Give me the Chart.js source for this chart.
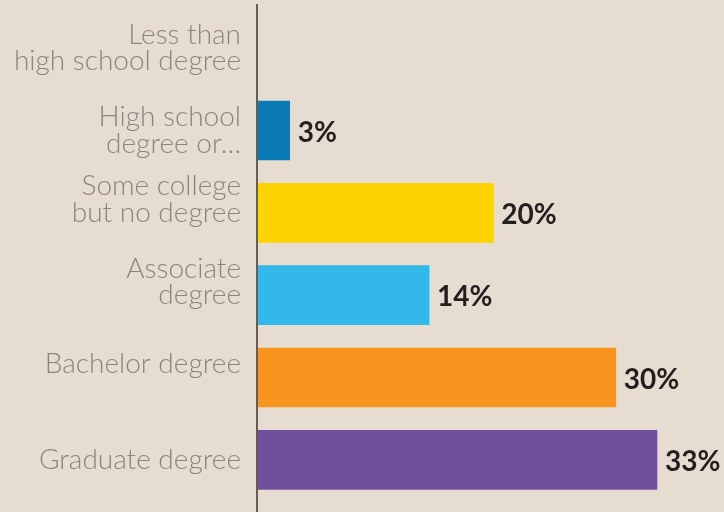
<!DOCTYPE html>
<html>
<head>
<meta charset="utf-8">
<script src="https://cdn.jsdelivr.net/npm/chart.js@4"></script>
<style>
  html, body { margin: 0; padding: 0; background: #e6dccf; }
  #wrap { width: 724px; height: 512px; }
</style>
</head>
<body>
<div id="wrap"><canvas id="chart" width="724" height="512"></canvas></div>
<script>
// education levels, share of respondents (%)
// (trailing '' lines nudge a label up, as in the original layout)
var categories = [
    ['Less than', 'high school degree'],
    ['High school', 'degree or\u2026'],
    ['Some college', 'but no degree', ''],
    ['Associate', 'degree', ''],
    ['Bachelor degree', ''],
    'Graduate degree'
];
var shares = [0, 2.7, 19.5, 14.2, 29.6, 33.0];
var shareLabels = ['', '3%', '20%', '14%', '30%', '33%'];
var barColors = ['#0a7bb5', '#0a7bb5', '#fdd300', '#33b8ea', '#f7941e', '#704f9c'];

// value text to the right of each bar + the axis line
var extras = {
    id: 'extras',
    afterDatasetsDraw: function (chart) {
        var ctx = chart.ctx;
        var meta = chart.getDatasetMeta(0);
        ctx.save();
        ctx.font = 'bold 28px Lato';
        ctx.fillStyle = '#231f20';
        ctx.textBaseline = 'middle';
        ctx.textAlign = 'left';
        meta.data.forEach(function (bar, i) {
            if (shareLabels[i]) {
                ctx.fillText(shareLabels[i], bar.x + 8, bar.y + 2);
            }
        });
        var x0 = chart.scales.x.getPixelForValue(0);
        ctx.strokeStyle = '#655d56';
        ctx.lineWidth = 2;
        ctx.beginPath();
        ctx.moveTo(x0, 4);
        ctx.lineTo(x0, chart.height);
        ctx.stroke();
        ctx.restore();
    }
};

const data = {
    labels: categories,
    datasets: [{
        data: shares,
        backgroundColor: barColors,
        borderWidth: 0,
        barThickness: 59
    }]
};

const config = {
    type: 'bar',
    data,
    options: {
        indexAxis: 'y',
        responsive: false,
        animation: false,
        layout: {
            padding: { top: 7, bottom: 11, left: 0, right: 6.4 }
        },
        plugins: {
            legend: { display: false },
            tooltip: { enabled: false }
        },
        scales: {
            x: {
                display: false,
                min: 0,
                max: 38
            },
            y: {
                grid: { display: false, drawTicks: false },
                border: { display: false },
                afterFit: function (scale) {
                    scale.width = 257;
                    scale.paddingTop = 0;
                    scale.paddingBottom = 0;
                },
                ticks: {
                    autoSkip: false,
                    color: '#8b8580',
                    padding: 16,
                    font: { family: 'Lato', weight: 300, size: 28, lineHeight: 0.95 }
                }
            }
        }
    },
    plugins: [extras]
};

var myChart = new Chart(document.getElementById('chart'), config);
</script>
</body>
</html>
